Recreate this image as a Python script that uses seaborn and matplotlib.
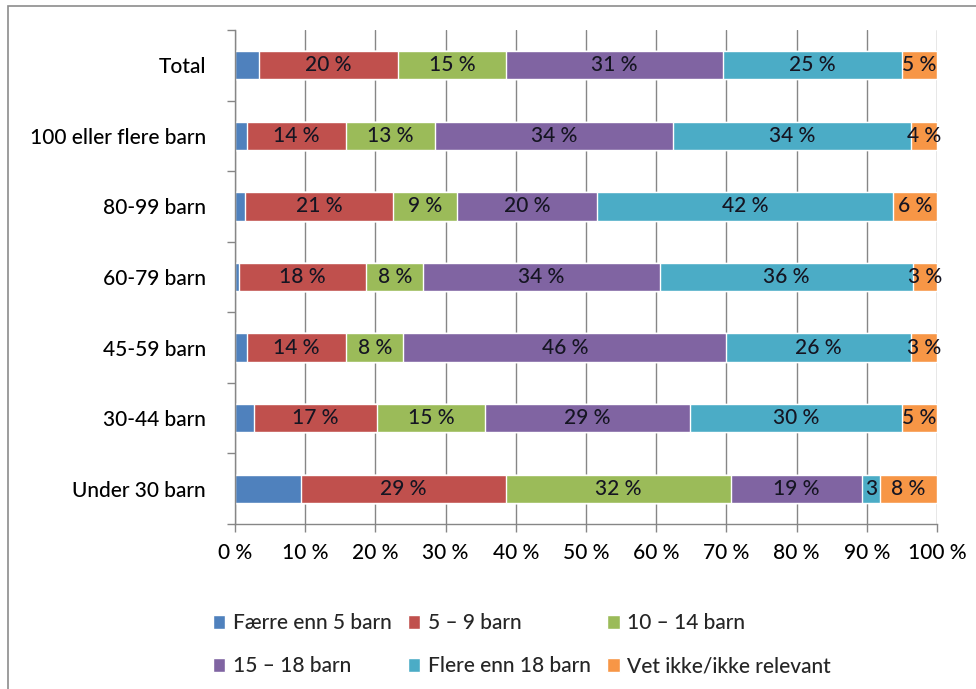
import pandas as pd
import matplotlib
matplotlib.use("Agg")
import matplotlib.pyplot as plt
import seaborn as sns
from matplotlib.patches import Rectangle
from matplotlib.ticker import MultipleLocator, FixedLocator

# Categories (top to bottom) and series values (% share)
categories = ["Total", "100 eller flere barn", "80-99 barn", "60-79 barn",
              "45-59 barn", "30-44 barn", "Under 30 barn"]
series_names = ["Færre enn 5 barn", "5 – 9 barn", "10 – 14 barn",
                "15 – 18 barn", "Flere enn 18 barn", "Vet ikke/ikke relevant"]

faerre_5 = [3.4, 1.7, 1.4, 0.5, 1.7, 2.7, 9.4]
barn_5_9 = [19.8, 14.1, 21.1, 18.2, 14.1, 17.5, 29.2]
barn_10_14 = [15.4, 12.7, 9.1, 8.1, 8.2, 15.4, 32.1]
barn_15_18 = [30.9, 33.9, 20.0, 33.7, 46.0, 29.2, 18.6]
flere_18 = [25.5, 33.9, 42.1, 36.1, 26.3, 30.2, 2.6]
vet_ikke = [5.0, 3.7, 6.3, 3.4, 3.7, 5.0, 8.1]

# Data labels as printed on the chart
labels_faerre = ["", "", "", "", "", "", ""]
labels_5_9 = ["20 %", "14 %", "21 %", "18 %", "14 %", "17 %", "29 %"]
labels_10_14 = ["15 %", "13 %", "9 %", "8 %", "8 %", "15 %", "32 %"]
labels_15_18 = ["31 %", "34 %", "20 %", "34 %", "46 %", "29 %", "19 %"]
labels_flere = ["25 %", "34 %", "42 %", "36 %", "26 %", "30 %", "3"]
labels_vet = ["5 %", "4 %", "6 %", "3 %", "3 %", "5 %", "8 %"]

x_ticks = [0, 10, 20, 30, 40, 50, 60, 70, 80, 90, 100]
x_ticklabels = ["0 %", "10 %", "20 %", "30 %", "40 %", "50 %",
                "60 %", "70 %", "80 %", "90 %", "100 %"]

colors = ["#4F81BD", "#C0504D", "#9BBB59", "#8064A2", "#4BACC6", "#F79646"]

sns.set_style("white")
plt.rcParams["font.family"] = ["Lato", "DejaVu Sans"]
plt.rcParams["font.weight"] = "medium"

values = [faerre_5, barn_5_9, barn_10_14, barn_15_18, flere_18, vet_ikke]
labels = [labels_faerre, labels_5_9, labels_10_14, labels_15_18, labels_flere, labels_vet]

df = pd.DataFrame({"category": categories})
for name, vals in zip(series_names, values):
    df[name] = vals
cum = df[series_names].cumsum(axis=1)
start = cum - df[series_names].values

fig = plt.figure(figsize=(9.76, 6.89), dpi=100)
ax = fig.add_axes([235 / 976, 1 - 524 / 689, (937 - 235) / 976, (524 - 30) / 689])

# draw cumulative bars from the right-most series back to the first one
for name, color in reversed(list(zip(series_names, colors))):
    sns.barplot(x=cum[name], y=df["category"], orient="h", color=color,
                width=0.4, ax=ax, saturation=1, label=name, zorder=3)

# segment labels
for name, labs in zip(series_names, labels):
    for i, lab in enumerate(labs):
        if lab:
            xc = start[name].iloc[i] + df[name].iloc[i] / 2
            ax.text(xc, i, lab, ha="center", va="center", fontsize=15,
                    color="#151522", zorder=4)

ax.set_xlim(0, 100)
ax.set_ylim(6.5, -0.5)
ax.xaxis.set_major_locator(FixedLocator(x_ticks))
ax.set_xticklabels(x_ticklabels, fontsize=15, color="black")
ax.tick_params(axis="x", bottom=True, direction="out", length=6, width=1,
               color="#868686", pad=8)
ax.tick_params(axis="y", which="major", left=False, length=0, pad=21,
               labelsize=15, labelcolor="black")
ax.yaxis.set_minor_locator(MultipleLocator(1, offset=0.5))
ax.tick_params(axis="y", which="minor", left=True, direction="out", length=6,
               width=1, color="#868686")
ax.set_xlabel("")
ax.set_ylabel("")
ax.grid(axis="x", color="#868686", linewidth=1, zorder=0)
ax.set_axisbelow(True)
for side in ["top", "right"]:
    ax.spines[side].set_visible(False)
for side in ["left", "bottom"]:
    ax.spines[side].set_color("#868686")
    ax.spines[side].set_linewidth(1)
    ax.spines[side].set_zorder(5)

# legend: row-major order in 3 columns
handles, leg_labels = ax.get_legend_handles_labels()
hmap = dict(zip(leg_labels, handles))
order = [series_names[i] for i in [0, 3, 1, 4, 2, 5]]
ax.legend([hmap[n] for n in order], order, loc="center left",
          bbox_to_anchor=(194 / 976, 0.064), bbox_transform=fig.transFigure,
          ncol=3, frameon=False, fontsize=15, handlelength=0.6, handleheight=0.6,
          handletextpad=0.35, columnspacing=0.8, labelspacing=1.1)

# outer chart border
fig.patches.append(Rectangle((8 / 976, -0.05), 1.2, 1 - 6 / 689 + 0.05,
                             transform=fig.transFigure, fill=False,
                             edgecolor="#8c8c8c", linewidth=1.2))

fig.savefig("out.png", dpi=100)
